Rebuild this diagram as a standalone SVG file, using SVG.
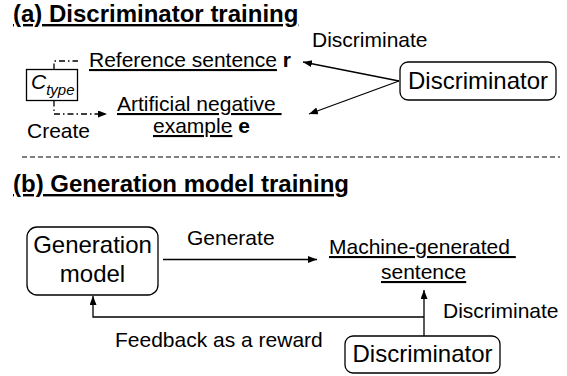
<svg xmlns="http://www.w3.org/2000/svg" width="567" height="376" viewBox="0 0 567 376">
<style>
text{font-family:"Liberation Sans",Arial,sans-serif;fill:#000;}
.t{font-size:24px;font-weight:bold;text-decoration:underline;}
.l{font-size:21px;}
.n{font-size:24px;text-anchor:middle;}
.u{text-decoration:underline;}
.b{font-weight:bold;}
.box{fill:#fff;stroke:#000;stroke-width:1.3;}
.c{fill:none;stroke:#000;stroke-width:1.3;}
.dd{stroke-dasharray:6 3 1.5 3;}
</style>
<defs>
<marker id="ah" markerUnits="userSpaceOnUse" markerWidth="10" markerHeight="8" refX="9" refY="3.5" orient="auto">
<path d="M0,0 L9,3.5 L0,7 z" fill="#000"/>
</marker>
</defs>
<text class="t" x="13" y="22">(a) Discriminator training</text>
<text class="t" x="13" y="192">(b) Generation model training</text>
<line x1="22" y1="157" x2="560" y2="157" stroke="#000" stroke-width="1.2" stroke-dasharray="5 3"/>

<g id="ctype">
<rect class="box" x="26.5" y="69.5" width="51" height="31"/>
<text x="31" y="89" style="font-size:21px;font-style:italic">C<tspan dy="6" style="font-size:15px">type</tspan></text>
</g>
<g id="reference">
<text class="l" x="89" y="67" xml:space="preserve"><tspan class="u">Reference sentence</tspan> <tspan class="b">r</tspan></text>
</g>
<g id="negative">
<text class="l" x="117" y="111" xml:space="preserve"><tspan class="u">Artificial negative </tspan></text>
<text class="l" x="153" y="133" xml:space="preserve"><tspan class="u">example</tspan> <tspan class="b">e</tspan></text>
</g>
<g id="discriminator-a">
<rect class="box" x="400" y="62" width="156" height="38" rx="8"/>
<text class="n" x="478" y="89">Discriminator</text>
</g>
<g id="generation-model">
<rect class="box" x="27" y="227" width="131" height="68" rx="10"/>
<text class="n" x="92.5" y="253">Generation</text>
<text class="n" x="92.5" y="282">model</text>
</g>
<g id="machine-sentence">
<text class="l" x="329" y="254" xml:space="preserve"><tspan class="u">Machine-generated </tspan></text>
<text class="l u" x="381" y="279">sentence</text>
</g>
<g id="discriminator-b">
<rect class="box" x="345" y="336" width="155" height="37" rx="8"/>
<text class="n" x="422.5" y="362">Discriminator</text>
</g>

<g id="connectors">
<path class="c dd" d="M54,69.5 V61 H78"/>
<path class="c dd" d="M54,100.5 V114 H107" marker-end="url(#ah)"/>
<line class="c" x1="399" y1="81" x2="303" y2="62" marker-end="url(#ah)"/>
<line class="c" x1="399" y1="81" x2="309" y2="114" marker-end="url(#ah)"/>
<line class="c" x1="163" y1="259.5" x2="317" y2="259.5" marker-end="url(#ah)"/>
<line class="c" x1="424" y1="336" x2="424" y2="290" marker-end="url(#ah)"/>
<path class="c" d="M424,317 H93 V296" marker-end="url(#ah)"/>
</g>

<g id="labels">
<text class="l" x="312" y="47">Discriminate</text>
<text class="l" x="27" y="138">Create</text>
<text class="l" x="187" y="245">Generate</text>
<text class="l" x="443" y="318">Discriminate</text>
<text class="l" x="115" y="347">Feedback as a reward</text>
</g>
</svg>
